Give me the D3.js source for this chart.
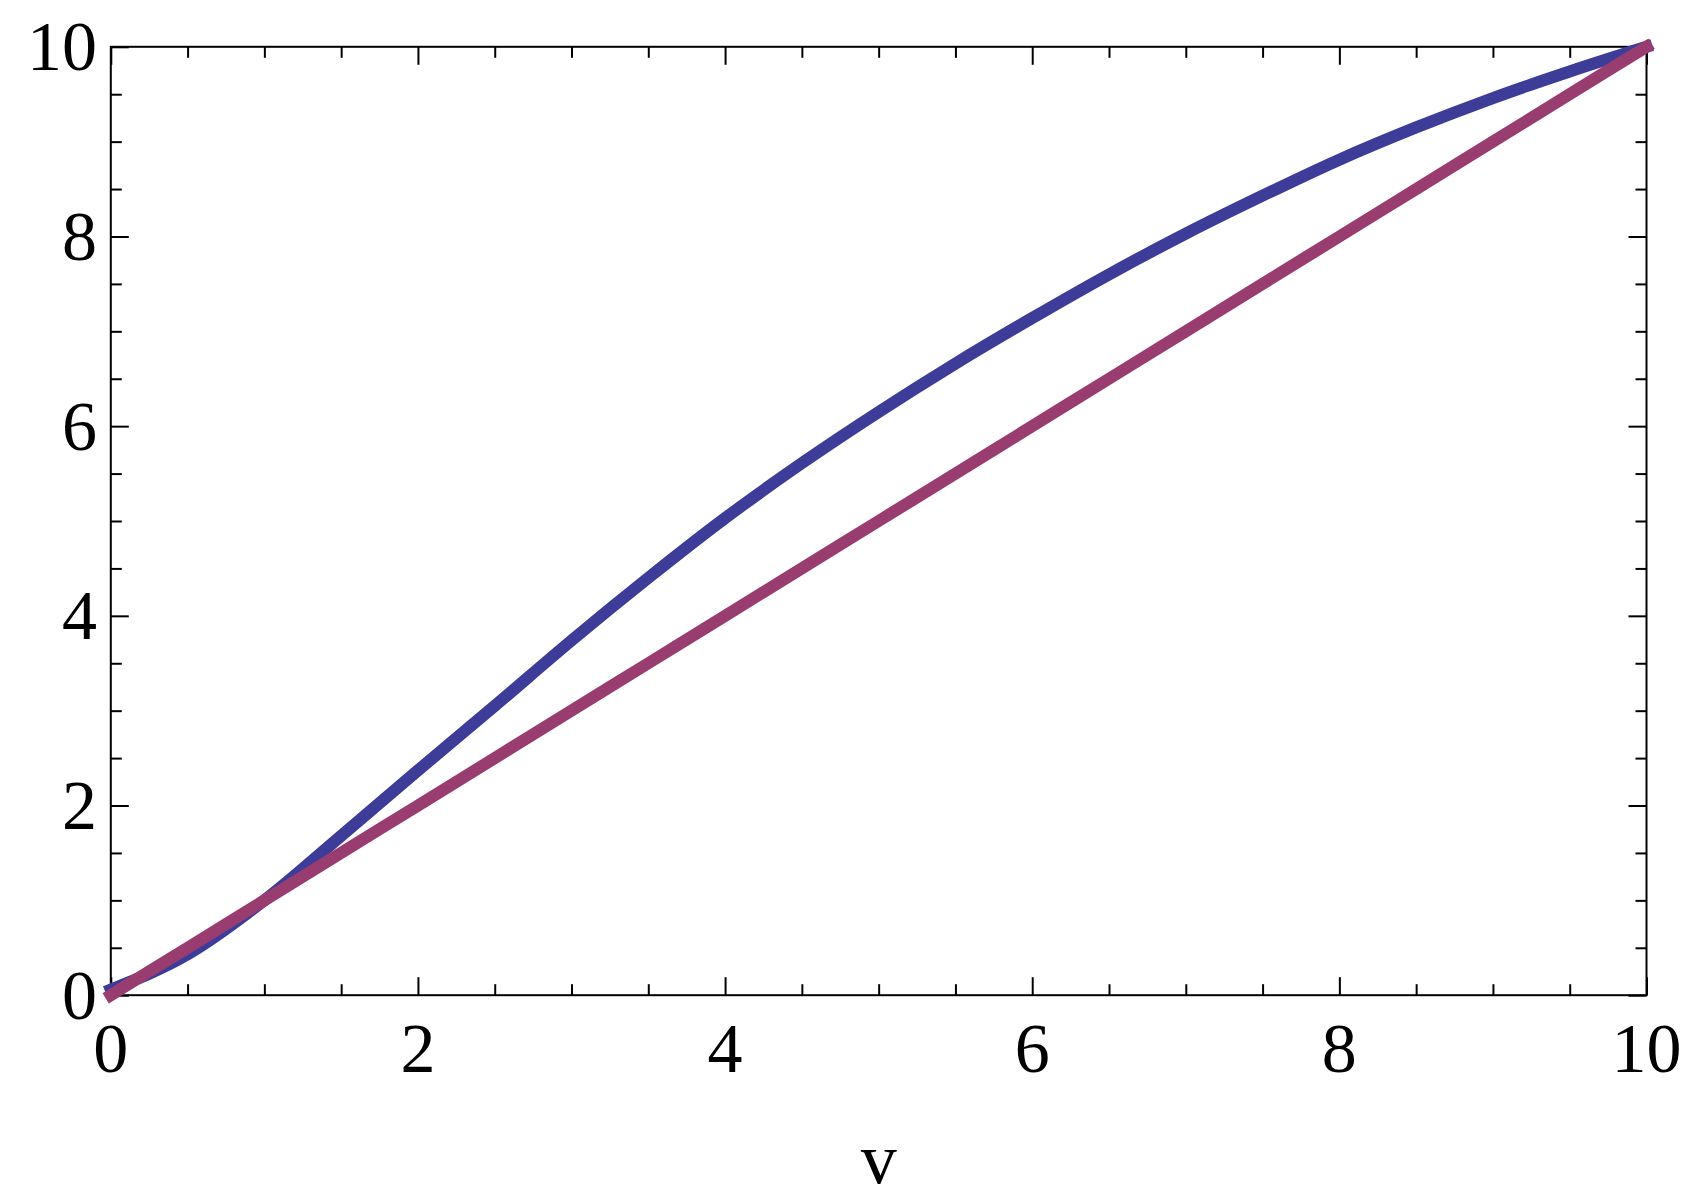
<!DOCTYPE html>
<html>
<head>
<meta charset="utf-8">
<script src="https://cdn.jsdelivr.net/npm/d3@7"></script>
<style>
  body { margin: 0; background: #fff; }
  text { font-family: "Liberation Serif", "DejaVu Serif", serif; fill: #000; }
</style>
</head>
<body>
<script>
var w = 1698;
var h = 1200;

// data
var vValues   = [0, 0.5, 1, 1.5, 2, 2.5, 3, 3.5, 4, 4.5, 5, 5.5, 6, 6.5, 7, 7.5, 8, 8.5, 9, 9.5, 10];
var blueSeries = [0.06, 0.43, 1.0, 1.68, 2.37, 3.05, 3.74, 4.4, 5.03, 5.61, 6.15, 6.66, 7.14, 7.6, 8.03, 8.43, 8.81, 9.15, 9.46, 9.74, 10.0];
var redSeries  = [0, 0.5, 1, 1.5, 2, 2.5, 3, 3.5, 4, 4.5, 5, 5.5, 6, 6.5, 7, 7.5, 8, 8.5, 9, 9.5, 10];
var majorTicks = [0, 2, 4, 6, 8, 10];
var tickLabels = ["0", "2", "4", "6", "8", "10"];
var minorTicks = d3.range(0, 10.01, 0.5).filter(function(d) { return majorTicks.indexOf(d) < 0; });
var xTitle = "v";

// plot frame (note: "top" is reserved on window, so use other names)
var pLeft = 110.8, pRight = 1646.5, pTop = 46.8, pBottom = 995.2;

var svg = d3.select("body").append("svg")
            .attr("width", w)
            .attr("height", h);

var x = d3.scaleLinear().domain([0, 10]).range([pLeft, pRight]);
var y = d3.scaleLinear().domain([0, 10]).range([pBottom, pTop]);

// ticks on all four sides, pointing inward
function tickAxis(axisFn, scale, vals, len, tx, ty) {
  var g = svg.append("g")
    .attr("transform", "translate(" + tx + "," + ty + ")")
    .call(axisFn(scale).tickValues(vals).tickSize(len).tickFormat(""));
  g.select(".domain").remove();
  g.selectAll(".tick line").attr("stroke", "#000").attr("stroke-width", 2);
}
tickAxis(d3.axisBottom, x, minorTicks, -11, 0, pBottom);
tickAxis(d3.axisBottom, x, majorTicks, -18, 0, pBottom);
tickAxis(d3.axisTop, x, minorTicks, -11, 0, pTop);
tickAxis(d3.axisTop, x, majorTicks, -18, 0, pTop);
tickAxis(d3.axisLeft, y, minorTicks, -11, pLeft, 0);
tickAxis(d3.axisLeft, y, majorTicks, -18, pLeft, 0);
tickAxis(d3.axisRight, y, minorTicks, -11, pRight, 0);
tickAxis(d3.axisRight, y, majorTicks, -18, pRight, 0);

// frame
svg.append("rect")
  .attr("x", pLeft).attr("y", pTop)
  .attr("width", pRight - pLeft).attr("height", pBottom - pTop)
  .attr("fill", "none").attr("stroke", "#000").attr("stroke-width", 2);

// tick labels
svg.selectAll("text.xl")
  .data(majorTicks)
  .enter()
  .append("text")
  .attr("class", "xl")
  .text(function(d, i) { return tickLabels[i]; })
  .attr("x", function(d) { return x(d); })
  .attr("y", 1072)
  .attr("text-anchor", "middle")
  .attr("font-size", 70);

svg.selectAll("text.yl")
  .data(majorTicks)
  .enter()
  .append("text")
  .attr("class", "yl")
  .text(function(d, i) { return tickLabels[i]; })
  .attr("x", 97)
  .attr("y", function(d) { return y(d) + 23.5; })
  .attr("text-anchor", "end")
  .attr("font-size", 70);

svg.append("text")
  .text(xTitle)
  .attr("x", (pLeft + pRight) / 2)
  .attr("y", 1182.5)
  .attr("text-anchor", "middle")
  .attr("font-size", 72);

// curves
var line = d3.line()
  .x(function(d) { return x(d[0]); })
  .y(function(d) { return y(d[1]); })
  .curve(d3.curveMonotoneX);

svg.append("path")
  .datum(d3.zip(vValues, blueSeries))
  .attr("d", line)
  .attr("fill", "none")
  .attr("stroke", "#3d3d99")
  .attr("stroke-width", 12)
  .attr("stroke-linecap", "square");

svg.append("path")
  .datum(d3.zip(vValues, redSeries))
  .attr("d", line)
  .attr("fill", "none")
  .attr("stroke", "#993d71")
  .attr("stroke-width", 12)
  .attr("stroke-linecap", "square");
</script>
</body>
</html>
